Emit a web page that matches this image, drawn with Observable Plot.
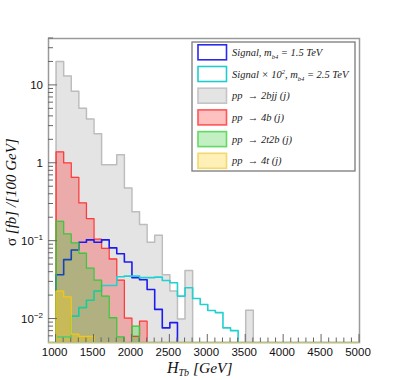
<!DOCTYPE html>
<html><head><meta charset="utf-8">
<script src="https://cdn.jsdelivr.net/npm/d3@7"></script>
<script src="https://cdn.jsdelivr.net/npm/@observablehq/plot@0.6"></script>
<style>html,body{margin:0;padding:0;background:#fff;}</style>
</head><body><div id="chart"></div>
<script>
// Histograms: 100 GeV bins, first lower edge at 1000 GeV
const firstBin = 1000;
const binWidth = 100;
const bkg2bjj   = [20.3,13.2,8.4,5.1,3.7,2.4,0.96,0.96,1.29,0.48,0.238,0.164,0.097,0.119,0.037,0.023,0.010,0.042,0,0,0,0,0,0,0,0.013];
const bkg4b     = [1.40,1.01,0.66,0.31,0.195,0.106,0.081,0.059,0.0316,0.0103,0.0060,0.0094];
const bkg2t2b   = [0.18,0.124,0.095,0.070,0.045,0.0316,0.0197,0.0104,0.0059,0,0.0081];
const bkg4t     = [0.0229,0.0193,0.0064,0.0060,0.0060];
const sig15     = [0.037,0.058,0.077,0.097,0.104,0.097,0.104,0.082,0.069,0.054,0.034,0.032,0.024,0.0133,0.0077,0.009];
const sig25x100 = [0.0059,0.0059,0.0109,0.014,0.0174,0.0229,0.027,0.027,0.035,0.0356,0.0356,0.034,0.034,0.0345,0.0313,0.0292,0.0197,0.0252,0.0184,0.0154,0.0129,0.0121,0.0077,0.0071];

const xDomain = [900, 5000];
const yDomain = [0.005, 40];
const xMajorTicks = [1000,1500,2000,2500,3000,3500,4000,4500,5000];
const xTickLabels = ["1000","1500","2000","2500","3000","3500","4000","4500","5000"];
const yMajorTicks = [0.01, 0.1, 1, 10];
const yTickMant = ["10","10","1","10"];
const yTickExp  = ["\u22122","\u22121","",""];

const legendEntries = [
  [{t:"Signal, m"},{t:"b4",sub:true},{t:" = 1.5 TeV"}],
  [{t:"Signal \u00d7 10"},{t:"2",sup:true},{t:", m"},{t:"b4",sub:true},{t:" = 2.5 TeV"}],
  [{t:"pp  \u2192 2bjj (j)"}],
  [{t:"pp  \u2192 4b (j)"}],
  [{t:"pp  \u2192 2t2b (j)"}],
  [{t:"pp  \u2192 4t (j)"}]
];
const legendSwatch = [
  {fill:"#ffffff", stroke:"#2a2aee"},
  {fill:"#ffffff", stroke:"#22cccc"},
  {fill:"#e4e4e4", stroke:"#c4c4c4"},
  {fill:"#ffc0c0", stroke:"#ff5555"},
  {fill:"#c2f0c2", stroke:"#66d866"},
  {fill:"#fff0b8", stroke:"#f2d870"}
];

const floorVal = yDomain[0] / 10;
function contour(vals) {
  const pts = [{x: firstBin, y: floorVal, base: floorVal}];
  vals.forEach((v, i) => pts.push({x: firstBin + i * binWidth, y: v > 0 ? v : floorVal, base: floorVal}));
  const end = firstBin + vals.length * binWidth;
  const last = vals[vals.length - 1];
  pts.push({x: end, y: last > 0 ? last : floorVal, base: floorVal});
  pts.push({x: end, y: floorVal, base: floorVal});
  return pts;
}
const cGray = contour(bkg2bjj), cRed = contour(bkg4b), cGreen = contour(bkg2t2b),
      cYel = contour(bkg4t), cBlue = contour(sig15), cCyan = contour(sig25x100);

const area = (d, fill, op) => Plot.areaY(d, {x:"x", y1:"base", y2:"y", curve:"step-after", fill, fillOpacity: op, clip: true});
const line = (d, stroke, w) => Plot.line(d, {x:"x", y:"y", curve:"step-after", stroke, strokeWidth: w, clip: true});

const plot = Plot.plot({
  width: 399, height: 380,
  marginLeft: 48, marginRight: 40, marginTop: 38, marginBottom: 38,
  x: {domain: xDomain, axis: null},
  y: {type: "log", domain: yDomain, axis: null},
  marks: [
    area(cGray, "#e4e4e4", 1), line(cGray, "#bdbdbd", 1.5),
    area(cRed, "rgb(255,0,0)", 0.25), line(cRed, "#ff3a3a", 1.3),
    line(cBlue, "#1c1cee", 1.6),
    line(cCyan, "#22d0d0", 1.6),
    area(cGreen, "rgb(0,190,0)", 0.25), line(cGreen, "#3cc83c", 1.3),
    area(cYel, "rgb(255,205,0)", 0.3), line(cYel, "#f0c818", 1.3),
    Plot.frame({stroke: "#9a9a9a", strokeWidth: 1.5}),
    Plot.ruleY([yDomain[0]], {stroke: "#bcc27a", strokeWidth: 1.6})
  ]
});
document.getElementById("chart").appendChild(plot);

const svg = d3.select(plot);
const sx = plot.scale("x"), sy = plot.scale("y");
const X = v => sx.apply(v), Y = v => sy.apply(v);
const x0 = X(xDomain[0]), y0 = Y(yDomain[0]);
const g = svg.append("g");

// x ticks (inward)
for (let v = firstBin; v <= xDomain[1]; v += binWidth) {
  const major = xMajorTicks.includes(v);
  g.append("line").attr("x1", X(v)).attr("x2", X(v)).attr("y1", y0).attr("y2", y0 - (major ? 8 : 4.5))
    .attr("stroke", "#666").attr("stroke-width", 1);
}
xMajorTicks.forEach((v, i) => {
  g.append("text").attr("x", X(v) - 1).attr("y", y0 + 13.5).attr("text-anchor", "middle")
    .attr("font-family", "Liberation Sans, Arial, sans-serif").attr("font-size", 11.5).attr("fill", "#111")
    .text(xTickLabels[i]);
});
// y ticks (inward)
const yTicksAll = [];
for (let e = -3; e <= 1; e++) for (let m = 1; m <= 9; m++) {
  const v = m * Math.pow(10, e);
  if (v > yDomain[0] * 1.0001 && v <= yDomain[1]) yTicksAll.push({v, major: m === 1});
}
yTicksAll.forEach(t => {
  g.append("line").attr("x1", x0).attr("x2", x0 + (t.major ? 9 : 5)).attr("y1", Y(t.v)).attr("y2", Y(t.v))
    .attr("stroke", "#666").attr("stroke-width", 1);
});
yMajorTicks.forEach((v, i) => {
  const t = g.append("text").attr("x", 43).attr("y", Y(v) + 4).attr("text-anchor", "end")
    .attr("font-family", "Liberation Sans, Arial, sans-serif").attr("font-size", 11.5).attr("fill", "#111");
  t.append("tspan").text(yTickMant[i]);
  if (yTickExp[i]) t.append("tspan").attr("dy", -5).attr("font-size", 8).text(yTickExp[i]);
});

// axis titles
const yt = g.append("text").attr("transform", "translate(16,246) rotate(-90)").attr("text-anchor", "start")
  .attr("font-family", "Liberation Serif, Times New Roman, serif").attr("font-size", 15).attr("fill", "#111");
yt.append("tspan").text("\u03c3");
yt.append("tspan").attr("font-style", "italic").text(" [fb] /[100 GeV]");

const xt = g.append("text").attr("x", 167).attr("y", 373).attr("text-anchor", "start")
  .attr("font-family", "Liberation Serif, Times New Roman, serif").attr("font-style", "italic").attr("font-size", 16).attr("fill", "#111");
xt.append("tspan").text("H");
xt.append("tspan").attr("font-size", 10).attr("dy", 3).text("Tb");
xt.append("tspan").attr("dy", -3).attr("font-size", 15.5).text(" [GeV]");

// legend
const lg = svg.append("g");
lg.append("rect").attr("x", 192).attr("y", 42).attr("width", 163).attr("height", 129)
  .attr("fill", "#fff").attr("stroke", "#7a7a7a").attr("stroke-width", 1.3);
legendEntries.forEach((parts, i) => {
  const cy = 52.3 + i * 21.7;
  lg.append("rect").attr("x", 198).attr("y", cy - 7.5).attr("width", 28.5).attr("height", 15)
    .attr("fill", legendSwatch[i].fill).attr("stroke", legendSwatch[i].stroke).attr("stroke-width", 1.6);
  const t = lg.append("text").attr("x", 232).attr("y", cy + 3.5).attr("text-anchor", "start")
    .attr("font-family", "Liberation Serif, Times New Roman, serif").attr("font-style", "italic")
    .attr("font-size", 10.5).attr("fill", "#222");
  let shift = 0;
  parts.forEach(p => {
    const sp = t.append("tspan").text(p.t);
    let target = p.sub ? 3 : p.sup ? -4 : 0;
    if (target !== shift) { sp.attr("dy", target - shift); shift = target; }
    if (p.sub || p.sup) sp.attr("font-size", 6.5);
  });
});
</script>
</body></html>
